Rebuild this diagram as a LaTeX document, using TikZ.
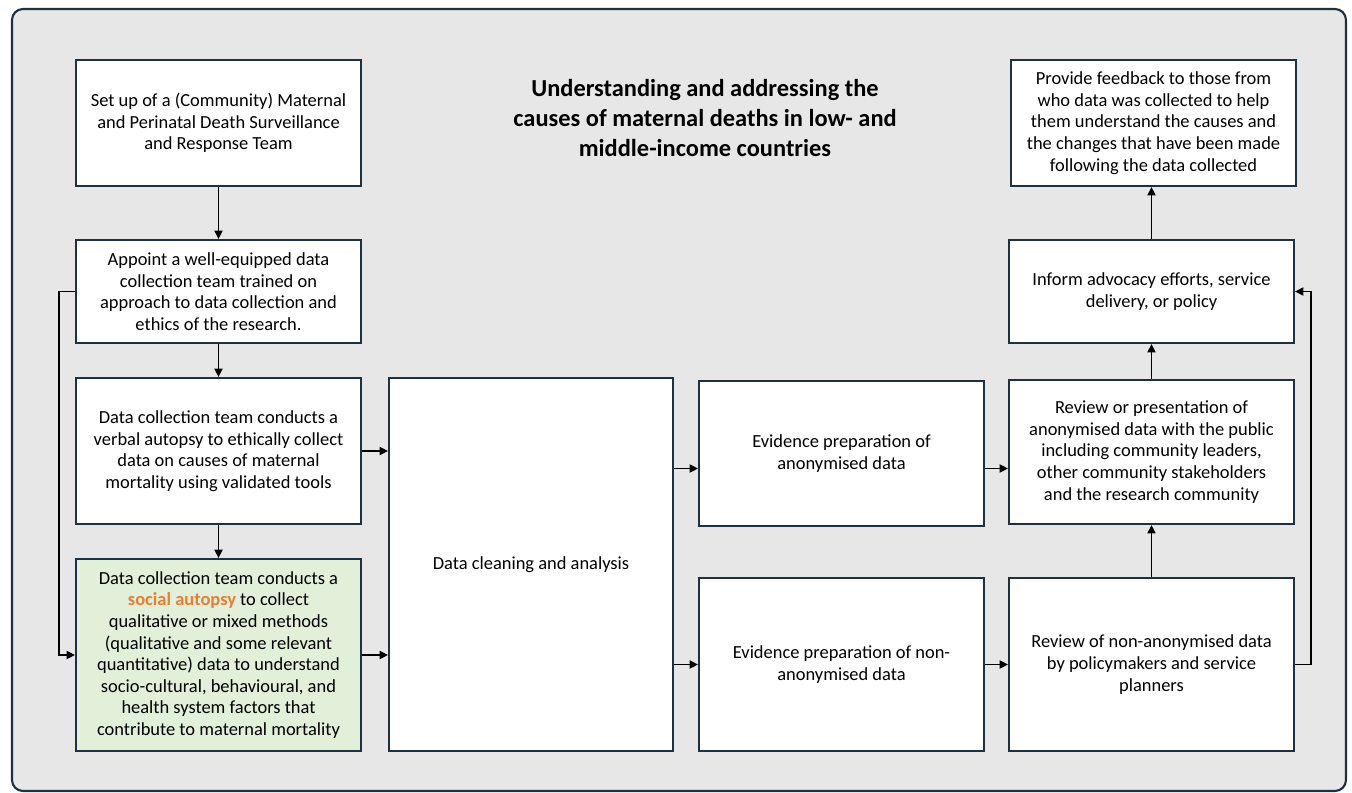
\documentclass[tikz,border=0pt]{standalone}
\usepackage{fontspec}
\setmainfont{Carlito}
\usepackage{xcolor}
\usepackage{tikz}
\usetikzlibrary{arrows.meta, positioning, calc}
\definecolor{frameNavy}{HTML}{1E3142}
\definecolor{frameGrey}{HTML}{E7E7E7}
\definecolor{socialGreen}{HTML}{E2F0D9}
\definecolor{socialOrange}{HTML}{ED7D31}

\begin{document}
\begin{tikzpicture}[
  x=0.02cm, y=-0.02cm,
  font=\fontsize{10.5}{12.3}\selectfont,
  stage/.style={draw=frameNavy, line width=1.1pt, fill=white, align=center,
                minimum width=5.7cm, inner sep=2pt},
  focus/.style={stage, fill=socialGreen},
  flow/.style={-{Triangle[length=1.7mm, width=1.6mm]}, line width=1.1pt, black}
]
\useasboundingbox (0,0) rectangle (1352,793);
\draw[draw=frameNavy, line width=1.2pt, fill=frameGrey, rounded corners=0.22cm]
  (12,9) rectangle (1346,791);

% left column
\node[stage, minimum height=2.52cm] (setup) at (218.5,123)
  {Set up of a (Community) Maternal\\and Perinatal Death Surveillance\\and Response Team};
\node[stage, minimum height=2.06cm] (appoint) at (218.5,291.5)
  {Appoint a well-equipped data\\collection team trained on\\approach to data collection and\\ethics of the research.};
\node[stage, minimum height=2.92cm] (verbal) at (218.5,451)
  {Data collection team conducts a\\verbal autopsy to ethically collect\\data on causes of maternal\\mortality using validated tools};
\node[focus, minimum height=3.84cm] (social) at (218.5,655)
  {Data collection team conducts a\\{\bfseries\color{socialOrange}social autopsy} to collect\\qualitative or mixed methods\\(qualitative and some relevant\\quantitative) data to understand\\socio-cultural, behavioural, and\\health system factors that\\contribute to maternal mortality};

% middle
\node[stage, minimum width=5.68cm, minimum height=7.46cm] (clean) at (531,564.5)
  {Data cleaning and analysis};
\node[stage, minimum height=2.9cm] (evanon) at (841.5,453.5)
  {Evidence preparation of\\anonymised data};
\node[stage, minimum height=3.46cm] (evnon) at (841.5,664.5)
  {Evidence preparation of non-\\anonymised data};

% right column
\node[stage, minimum height=3.46cm] (revnon) at (1151.5,664.5)
  {Review of non-anonymised data\\by policymakers and service\\planners};
\node[stage, minimum height=2.88cm] (revpub) at (1151.5,452)
  {Review or presentation of\\anonymised data with the public\\including community leaders,\\other community stakeholders\\and the research community};
\node[stage, minimum height=2.06cm] (inform) at (1151.5,291.5)
  {Inform advocacy efforts, service\\delivery, or policy};
\node[stage, minimum height=2.52cm] (feedback) at (1153.5,123)
  {Provide feedback to those from\\who data was collected to help\\them understand the causes and\\the changes that have been made\\following the data collected};

\node[font=\fontsize{13.9}{17.2}\selectfont\bfseries, align=center] (title) at (705,118)
  {Understanding and addressing the\\causes of maternal deaths in low- and\\middle-income countries};

\coordinate (anonin) at ([yshift=-0.3cm]evanon.west);

\draw[flow] (setup.south) -- (appoint.north);
\draw[flow] (appoint.south) -- (verbal.north);
\draw[flow] (verbal.south) -- (social.north);
\draw[flow] (appoint.west) -- ++(-16,0) |- (social.west);
\draw[flow] (verbal.east) -- (verbal.east -| clean.west);
\draw[flow] (social.east) -- (social.east -| clean.west);
\draw[flow] (clean.east |- anonin) -- (anonin);
\draw[flow] (clean.east |- evnon.west) -- (evnon.west);
\draw[flow] (anonin -| evanon.east) -- (anonin -| revpub.west);
\draw[flow] (evnon.east) -- (revnon.west);
\draw[flow] (revnon.north) -- (revpub.south);
\draw[flow] (revpub.north) -- (inform.south);
\draw[flow] (inform.north) -- (inform.north |- feedback.south);
\draw[flow] (revnon.east) -- ++(16,0) |- (inform.east);

\end{tikzpicture}
\end{document}
